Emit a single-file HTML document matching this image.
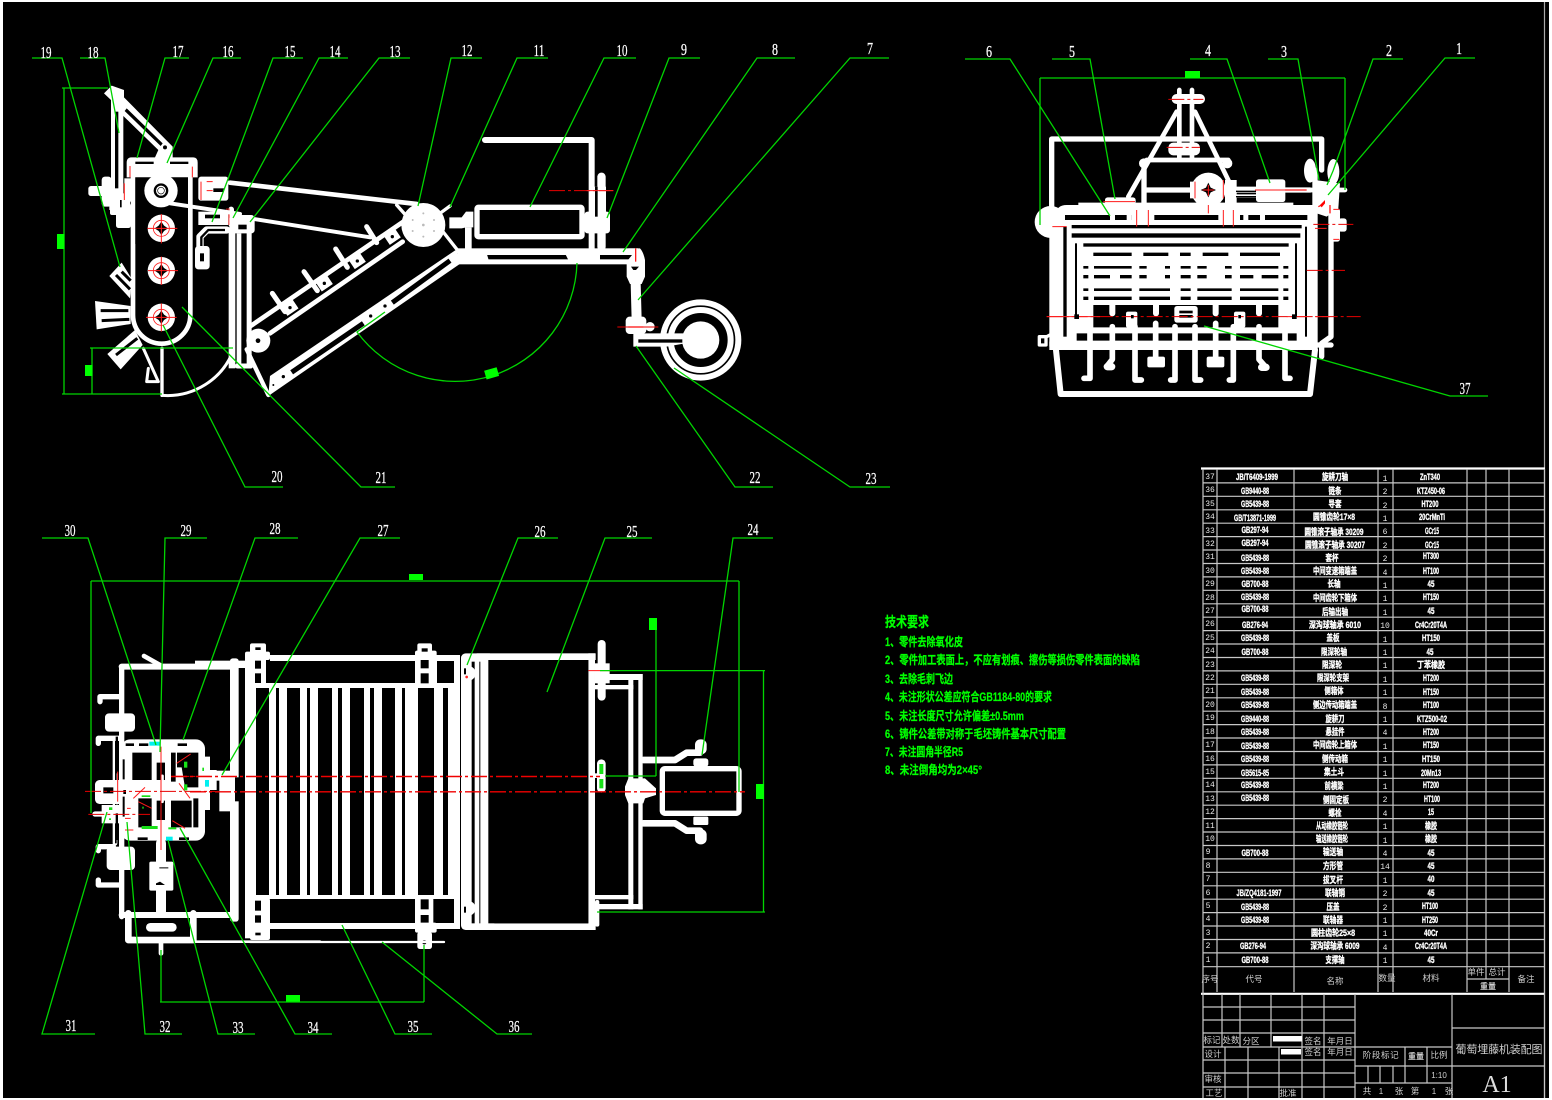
<!DOCTYPE html>
<html><head><meta charset="utf-8"><style>
html,body{margin:0;padding:0;background:#fff;width:1552px;height:1100px;overflow:hidden}
svg{display:block}
.w{fill:none;stroke:#fff;stroke-linecap:round;stroke-linejoin:round}
.f{fill:#fff;stroke:none}
.k{fill:#000;stroke:none}
.kl{fill:none;stroke:#000}
.g{fill:none;stroke:#00d400;stroke-width:1.3}
.gf{fill:#00ff00;stroke:none}
.r{fill:none;stroke:#ff1a1a}
.rd{fill:none;stroke:#f00000;stroke-width:1.4;stroke-dasharray:16 3 3 3}
.rz{fill:none;stroke:#e80000;stroke-dasharray:48 9 9 9}
.gr{stroke:#c8c8c8;stroke-width:1.2;fill:none}
.l{font-family:"Liberation Serif",serif;font-size:17px;fill:#fff;text-anchor:middle;stroke:#fff;stroke-width:.25}
.n{font-family:"Liberation Sans","Noto Sans CJK SC",sans-serif;font-weight:700;font-size:9px;fill:#fff;stroke:#fff;stroke-width:.35;text-anchor:middle}
.q{font-family:"Liberation Mono",monospace;font-size:8px;fill:#e8e8e8;text-anchor:middle}
.c{font-family:"Liberation Sans","Noto Sans CJK SC",sans-serif;font-size:8.5px;fill:#d0d0d0;text-anchor:middle}
.y{font-family:"Liberation Sans","Noto Sans CJK SC",sans-serif;font-weight:700;font-size:12px;fill:#00ff00;stroke:#00ff00;stroke-width:.25}
</style></head><body>
<svg width="1552" height="1100" viewBox="0 0 1552 1100" xmlns="http://www.w3.org/2000/svg">
<rect x="3" y="2" width="1546" height="1096" fill="#000"/>
<line x1="1544.5" y1="2" x2="1544.5" y2="1098" stroke="#aaa" stroke-width="1.2"/>

<!-- SIDE VIEW left part -->
<g transform="translate(30 40) scale(.33333)">
<path class="f" d="M222 160 L245 137 L282 150 L282 172 L428 320 L428 352 L490 352 Q503 352 503 368 L503 412 L290 412 L290 368 Q290 352 305 352 L375 352 L385 330 L280 228 L280 470 L243 470 L243 180Z"/>
<path class="k" d="M290 205 L398 310 L392 318 L284 213Z"/>
<rect class="k" x="255" y="215" width="10" height="230" />
<rect class="k" x="316" y="365" width="55" height="7"/><rect class="k" x="420" y="365" width="55" height="7"/>
<circle cx="405" cy="322" r="6" fill="#000"/>
<path class="w" stroke-width="14" d="M309 405 V825 A86 86 0 0 0 481 825 V405"/>
<rect class="k" x="316" y="412" width="158" height="200"/>
<circle class="f" cx="393" cy="452" r="50"/><circle class="k" cx="393" cy="452" r="22"/><circle class="f" cx="393" cy="452" r="15"/><circle class="kl" stroke-width="2" cx="393" cy="452" r="10"/>
<g id="rl">
<circle class="f" cx="394" cy="565" r="41"/><path class="k" d="M394 545 L402 557 L414 565 L402 573 L394 585 L386 573 L374 565 L386 557Z"/><circle class="r" stroke-width="2.500" cx="394" cy="565" r="24"/><path class="r" stroke-width="3" d="M352 565H442M394 522V610"/>
<circle class="f" cx="394" cy="692" r="41"/><path class="k" d="M394 672 L402 684 L414 692 L402 700 L394 712 L386 700 L374 692 L386 684Z"/><circle class="r" stroke-width="2.500" cx="394" cy="692" r="24"/><path class="r" stroke-width="3" d="M354 692H444M394 650V735"/>
<circle class="f" cx="394" cy="832" r="41"/><path class="k" d="M394 812 L402 824 L414 832 L402 840 L394 852 L386 840 L374 832 L386 824Z"/><circle class="r" stroke-width="2.500" cx="394" cy="832" r="24"/><path class="r" stroke-width="3" d="M348 832H440M394 790V875"/>
</g>
<!-- clevis -->
<rect class="f" x="505" y="410" width="90" height="72" rx="8"/>
<path class="k" d="M550 445H582V456H550Z"/>
<path class="r" stroke-width="3" d="M513 425V480M530 425H548M530 452H548M300 378V412M487 380V412M283 430V480M507 530V552M597 505V555M591 505V555"/>
<rect class="f" x="505" y="515" width="90" height="40"/><rect class="k" x="525" y="524" width="45" height="11"/>
<path class="w" stroke-width="22" d="M590 570 H530 L510 590 V640"/><path class="kl" stroke-width="7" d="M585 570 H535 L514 592 V625"/>
<rect class="f" x="495" y="618" width="44" height="70" rx="10"/><rect class="k" x="510" y="640" width="12" height="24"/>
<!-- post -->
<rect class="f" x="596" y="565" width="20" height="420"/><rect class="f" x="620" y="580" width="14" height="405"/><rect class="f" x="650" y="575" width="15" height="410"/>
<path class="w" stroke-width="15" d="M622 978H662"/>
<rect class="f" x="595" y="500" width="17" height="60" rx="8"/><path class="r" stroke-width="3" d="M597 505V555"/>
<rect class="f" x="598" y="525" width="76" height="55" rx="10"/><rect class="k" x="625" y="554" width="25" height="14"/>
<!-- left mech -->
<rect class="f" x="175" y="438" width="60" height="30" rx="8"/><rect class="f" x="215" y="410" width="30" height="90" rx="10"/><rect class="f" x="238" y="460" width="62" height="50"/><rect class="f" x="258" y="490" width="45" height="74" rx="8"/><rect class="f" x="240" y="490" width="30" height="35" rx="6"/><rect class="f" x="283" y="415" width="20" height="70"/>
<path class="r" stroke-width="3" d="M283 430V480"/>
<path class="k" d="M270 480h5v22h-5z"/>
<!-- rakes -->
<path class="f" d="M238 708 L275 668 L306 718 L300 775Z"/><path class="kl" stroke-width="9" d="M258 705 L300 748M275 695 L302 722"/>
<path class="f" d="M195 783 L302 798 L302 852 L200 868Z"/><path class="kl" stroke-width="9" d="M212 812H295M215 842L298 838"/>
<path class="f" d="M232 942 L272 988 L338 915 L315 870Z"/><path class="kl" stroke-width="9" d="M258 945L322 895"/>
<!-- lower -->
<path class="w" stroke-width="9" d="M340 925 L385 1025 H350 L355 985"/>
<path class="w" stroke-width="10" d="M396 925 V1066"/>
<path class="w" stroke-width="9" d="M396 1066 A212 212 0 0 0 610 932"/>
</g>

<!-- SIDE VIEW rails -->
<g transform="translate(230 120) scale(.33333)">
<line class="w" stroke-width="14" x1="0" y1="188" x2="560" y2="252"/>
<line class="w" stroke-width="12" x1="-180" y1="250" x2="30" y2="282"/>
<line class="w" stroke-width="12" x1="60" y1="295" x2="420" y2="352"/>
<line class="w" stroke-width="14" x1="62" y1="618" x2="520" y2="305"/>
<line class="w" stroke-width="14" x1="120" y1="640" x2="518" y2="365"/>
<g class="w" stroke-width="15"><path d="M127 520L165 575M222 455L262 512M317 387L352 442M410 320L440 368"/></g>
<g fill="#fff" stroke="none">
<rect x="-20" y="-16" width="40" height="32" transform="translate(180 563) rotate(-34)"/><rect x="-20" y="-16" width="40" height="32" transform="translate(283 490) rotate(-34)"/><rect x="-20" y="-16" width="40" height="32" transform="translate(382 423) rotate(-34)"/><rect x="-20" y="-16" width="40" height="32" transform="translate(487 350) rotate(-34)"/>
</g>
<g fill="#000"><circle cx="180" cy="563" r="5"/><circle cx="283" cy="490" r="5"/><circle cx="382" cy="423" r="5"/><circle cx="487" cy="350" r="5"/></g>
<circle class="f" cx="85" cy="662" r="36"/><circle class="k" cx="84" cy="662" r="7"/>
<circle class="f" cx="580" cy="315" r="66"/>
<g fill="#bbb"><circle cx="580" cy="315" r="4"/><circle cx="548" cy="300" r="3"/><circle cx="612" cy="300" r="3"/><circle cx="548" cy="333" r="3"/><circle cx="612" cy="333" r="3"/><circle cx="580" cy="280" r="3"/><circle cx="580" cy="350" r="3"/></g>
<path class="w" stroke-width="10" d="M500 255L540 300M660 258L630 280M635 330L690 400"/>
<path class="f" d="M120 768 L680 388 L692 430 L115 828Z"/>
<path class="kl" stroke-width="15" d="M185 757 L400 610M487 548 L660 422"/>
<g fill="#000"><circle cx="160" cy="770" r="5"/><circle cx="130" cy="795" r="3"/><circle cx="422" cy="588" r="5"/><circle cx="465" cy="558" r="5"/></g>
<path class="w" stroke-width="13" d="M50 688 L115 825"/>
</g>

<!-- SIDE VIEW right -->
<g transform="translate(380 120) scale(.33333)">
<path class="w" stroke-width="18" d="M315 60 H635 V390"/>
<rect class="w" stroke-width="16" x="291" y="262" width="315" height="88" rx="4"/>
<path class="f" d="M208 292H245L258 275H280V322H258L245 325H208Z"/>
<rect class="f" x="255" y="322" width="20" height="70"/>
<rect class="f" x="613" y="275" width="77" height="65" rx="10"/>
<rect class="f" x="652" y="158" width="25" height="235" rx="12"/>
<rect class="f" x="628" y="200" width="50" height="90"/><rect class="k" x="645" y="200" width="8" height="90"/>
<rect class="f" x="234" y="385" width="540" height="20"/><rect class="f" x="230" y="418" width="525" height="15"/>
<path class="f" d="M232 400H320L326 420H232ZM555 400H660V420H565Z"/>
<path class="w" stroke-width="1" d="M250 405V430M270 405V430M300 405V430M610 405V430M640 405V430"/>
<path class="f" d="M745 385 H780 Q790 395 795 420 V470 L785 492 H750 L740 470 V425 L760 400Z"/>
<path class="r" stroke-width="4" d="M767 385V425"/>
<path class="k" d="M753 440H777L768 450H760Z"/>
<path class="w" stroke-width="30" d="M767 490 L770 600"/>
<rect class="f" x="737" y="590" width="62" height="52" rx="12"/><circle class="f" cx="810" cy="620" r="14"/>
<path class="rz" stroke-width="3" d="M712 621 H836"/>
<path class="r" stroke-width="4" d="M745 621H790"/>
<circle class="w" stroke-width="18" cx="962" cy="660" r="113"/>
<circle class="w" stroke-width="18" cx="962" cy="660" r="90"/>
<circle class="f" cx="962" cy="660" r="56"/>
<path class="f" d="M760 640H915V670L860 680H760Z"/><rect class="k" x="775" y="658" width="132" height="10"/>
<path class="rz" stroke-width="3" d="M507 212 H700"/>
<path class="r" stroke-width="3" d="M620 212H700"/>
</g>

<!-- TOP RIGHT VIEW -->
<g transform="translate(1020 70) scale(.33333)">
<path class="w" stroke-width="16" d="M95 435 V207 H905 V300"/>
<path class="w" stroke-width="14" d="M470 125 L325 380M525 125 L632 345M478 60V270M516 60V270M380 270H625"/>
<rect class="f" x="455" y="72" width="100" height="30" rx="15"/>
<rect class="f" x="445" y="218" width="95" height="38" rx="15"/>
<circle class="f" cx="372" cy="280" r="15"/><circle class="f" cx="622" cy="280" r="15"/>
<path class="w" stroke-width="16" d="M372 280V425M372 360H870"/>
<path class="w" stroke-width="10" d="M620 355H710M620 378H710"/>
<rect class="f" x="255" y="382" width="92" height="22" rx="8"/>
<circle class="f" cx="565" cy="360" r="52"/><path class="k" d="M565 338L572 353L588 360L572 367L565 382L558 367L542 360L558 353Z"/>
<path class="f" d="M510 335h14v50h-14zM555 400h18v40h-18zM615 330h35v100h-35z"/>
<rect class="f" x="708" y="328" width="88" height="68" rx="8"/>
<path class="w" stroke-width="14" d="M795 360H975"/>
<path class="k" d="M648 362h60v4h-60zM648 378h60v4h-60z"/>
<!-- tube + body -->
<path class="f" d="M105 435 Q110 405 140 405 H175 V398 H820 V405 H880 V830 H105Z"/>
<circle class="f" cx="92" cy="456" r="48"/>
<rect class="f" x="88" y="440" width="40" height="390"/>
<path class="k" d="M135 435H338V450H135ZM402 435H600V450H402ZM660 435H862V450H660Z"/>
<path class="f" d="M270 430h15v40h-15zM320 430h15v40h-15zM670 430h15v40h-15zM720 430h15v40h-15z"/>
<rect class="f" x="335" y="418" width="68" height="58" rx="14"/><rect class="f" x="595" y="418" width="65" height="58" rx="14"/>
<rect class="k" x="155" y="465" width="690" height="10"/><rect class="k" x="155" y="490" width="686" height="13"/><rect class="k" x="190" y="520" width="616" height="10"/>
<rect class="k" x="130" y="470" width="10" height="330"/>
<rect class="k" x="165" y="520" width="6" height="220"/><rect class="k" x="825" y="520" width="6" height="220"/><rect class="k" x="855" y="470" width="6" height="330"/>
<g class="k">
<path d="M220 548H335V558H220ZM370 548H445V558H370ZM480 548H512V558H480ZM548 548H625V558H548ZM660 548H780V558H660Z"/>
<path d="M190 588H205V596H190ZM222 588H335V596H222ZM358 588H380V596H358ZM435 588H450V596H435ZM482 588H512V596H482ZM532 588H560V596H532ZM615 588H635V596H615ZM660 588H775V596H660ZM790 588H805V596H790Z"/>
<path d="M190 615H205V625H190ZM222 615H270V625H222ZM300 615H335V625H300ZM358 615H380V625H358ZM435 615H450V625H435ZM482 615H512V625H482ZM532 615H560V625H532ZM615 615H635V625H615ZM660 615H700V625H660ZM725 615H775V625H725ZM790 615H805V625H790Z"/>
<path d="M190 655H205V663H190ZM222 655H335V663H222ZM358 655H450V663H358ZM482 655H512V663H482ZM532 655H635V663H532ZM660 655H775V663H660ZM790 655H805V663H790Z"/>
<path d="M190 680H205V690H190ZM222 680H335V690H222ZM358 680H450V690H358ZM482 680H512V690H482ZM532 680H635V690H532ZM660 680H775V690H660ZM790 680H805V690H790Z"/>
<path d="M220 705H775V772H220Z"/>
<path d="M170 790H830V812H170Z"/>
</g>
<g class="w" stroke-width="18"><path d="M277 705V730M408 705V730M587 705V730M717 705V730"/></g>
<path class="w" stroke-width="14" d="M225 780H770"/>
<rect class="f" x="380" y="590" width="55" height="32" rx="14"/><rect class="f" x="560" y="590" width="55" height="32" rx="14"/>
<rect class="f" x="463" y="708" width="70" height="50" rx="8"/><rect class="k" x="478" y="722" width="40" height="8"/><rect class="k" x="478" y="735" width="40" height="8" />
<rect class="f" x="318" y="725" width="34" height="48" rx="6"/><rect class="f" x="642" y="725" width="34" height="48" rx="6"/>
<rect class="f" x="88" y="815" width="800" height="25"/>
<rect class="k" x="125" y="840" width="745" height="125"/>
<path class="w" stroke-width="18" d="M108 840 L122 972 H870 L885 840"/>
<g class="w" stroke-width="17">
<path d="M210 770V925H192M345 770V930H364M465 770V930H452M525 770V930H542M640 770V930H628M795 770V925H810M407 760V870M587 760V870M277 770V868 L260 890M717 770V868 L738 892"/>
</g>
<path class="w" stroke-width="22" d="M262 890H275M725 892H738"/>
<rect class="f" x="382" y="860" width="53" height="32" rx="6"/><rect class="f" x="560" y="860" width="53" height="32" rx="6"/>
<path class="w" stroke-width="10" d="M58 800H78V825H58ZM80 800L108 785"/>
<!-- right side -->
<path class="w" stroke-width="16" d="M885 300 V840"/>
<path class="w" stroke-width="16" d="M933 420V800L905 820V860M890 825H933"/>
<ellipse class="f" cx="870" cy="302" rx="18" ry="36"/><ellipse class="f" cx="940" cy="305" rx="18" ry="38"/>
<path class="f" d="M885 330 L960 340 L955 415 L920 440 L890 430Z"/>
<rect class="f" x="930" y="415" width="30" height="100" rx="8"/><rect class="f" x="955" y="445" width="25" height="40" rx="8"/>
<path class="r" stroke-width="4" d="M795 360H860M905 405 L895 410M930 405V430"/>
<path fill="#f00" d="M900 405L915 390L915 400L905 412Z"/>
<path class="r" stroke-width="3" d="M250 395H345M350 420V470M385 420V470M610 420V470M640 420V470M525 335V385M610 330V385M565 345V378M548 360H582M565 405V430M705 360H795M97 470H140M940 418H958M940 508H958"/>
<g class="rz" stroke-width="3"><path d="M445 88H550M440 232H540M880 463H1000M860 601H975M80 740H1022"/></g>
<path class="r" stroke-width="3" d="M80 740H240M800 740H860M885 740H930M885 475H920"/>
<rect class="k" x="163" y="733" width="14" height="14"/><rect class="k" x="816" y="733" width="14" height="14"/>
<rect class="k" x="333" y="735" width="8" height="10"/><rect class="k" x="655" y="735" width="8" height="10"/>
</g>

<!-- BOTTOM VIEW left part -->
<g transform="translate(80 640) scale(.33333)">
<path class="w" stroke-width="14" d="M192 48L240 75"/>
<path class="w" stroke-width="18" d="M125 80H450"/>
<path class="w" stroke-width="16" d="M125 80V830"/>
<path class="w" stroke-width="18" d="M125 825H450"/>
<rect class="f" x="450" y="55" width="26" height="790" rx="8"/>
<rect class="f" x="495" y="55" width="33" height="840"/>
<rect class="f" x="345" y="62" width="155" height="22"/>
<path class="w" stroke-width="14" d="M95 295H105V610"/>
<rect class="k" x="105" y="290" width="5" height="320"/>
<path class="w" stroke-width="16" d="M120 170H60 M60 170 V185M120 295H55V310"/>
<path class="w" stroke-width="16" d="M100 620H55V632M120 735H55V720"/>
<rect class="f" x="75" y="220" width="90" height="55" rx="12"/><rect class="f" x="80" y="620" width="85" height="70" rx="12"/>
<!-- bolts -->
<rect class="f" x="510" y="10" width="48" height="130" rx="6"/><rect class="f" x="495" y="35" width="75" height="25" rx="6"/><rect class="k" x="526" y="22" width="16" height="8"/><rect class="k" x="525" y="62" width="18" height="24"/><rect class="k" x="525" y="100" width="18" height="30"/>
<rect class="f" x="510" y="775" width="60" height="125" rx="6"/><rect class="f" x="495" y="848" width="75" height="25" rx="6"/><rect class="k" x="525" y="782" width="18" height="30"/><rect class="k" x="525" y="826" width="18" height="22"/><rect class="k" x="526" y="878" width="16" height="8"/>
<!-- lower box -->
<path class="w" stroke-width="20" d="M145 820V900H340V820"/>
<path class="w" stroke-width="8" d="M340 905H720"/>
<rect class="k" x="165" y="835" width="165" height="55"/>
<rect class="f" x="198" y="849" width="92" height="26" rx="13"/>
<rect class="f" x="208" y="665" width="72" height="87" rx="5"/>
<path class="k" d="M238 682H265V685H238ZM228 730L240 725L255 735H228Z"/>
<path class="w" stroke-width="30" d="M243 610V665M243 752V815"/>
<path class="w" stroke-width="14" d="M243 900V940"/>
<path class="w" stroke-width="16" d="M45 522H120"/>
</g>
<!-- gearbox (zoom12 frame) -->
<g transform="translate(85 730) scale(.33333)">
<rect class="f" x="108" y="28" width="252" height="304" rx="28"/>
<path class="f" d="M345 80H375V120H395V180H375V240H345Z"/>
<rect class="f" x="30" y="150" width="90" height="72" rx="14"/>
<rect class="f" x="50" y="225" width="60" height="55"/>
<path class="k" d="M142 68H200V150H142ZM215 98H240V150H215ZM258 68H272V155H258ZM276 68H340V112H276ZM290 112H340V172H300ZM160 205H200V292H160ZM215 212H240V270H215ZM258 212H320V292H258ZM325 205H340V292H325Z"/>
<path class="k" d="M122 40h25v8h-25zM162 40h28v8h-28zM278 40h28v8h-28zM158 322h30v8h-30zM282 322h30v8h-30zM55 172h30v18h-30zM115 180h8v12h-8zM92 20h7v110h-7zM92 250h7v80h-7zM113 88h6v60h-6zM113 200h6v60h-6z"/>
<path class="w" stroke-width="9" d="M232 138 V215"/>
<g class="r" stroke-width="3"><path d="M275 100L317 72M282 160L315 205M145 205L180 172M160 215L200 235M262 272L300 295M98 125V215M228 50V360M120 300H145M120 265H137M126 235H137"/></g>
<g class="rz" stroke-width="3"><path d="M0 184H390"/><path d="M265 139H390"/><path d="M10 253H195"/></g>
<g fill="#18e018"><rect x="297" y="95" width="10" height="18"/><rect x="297" y="163" width="10" height="18"/><rect x="352" y="113" width="5" height="10"/><rect x="170" y="288" width="48" height="9"/><rect x="250" y="292" width="24" height="6"/><rect x="170" y="196" width="26" height="5"/><rect x="72" y="232" width="10" height="8"/><rect x="72" y="265" width="6" height="5"/><rect x="172" y="230" width="4" height="6"/></g>
<g fill="#00f0f0"><rect x="193" y="35" width="32" height="12"/><rect x="360" y="150" width="12" height="20"/><rect x="243" y="320" width="20" height="12"/></g>
</g>
<g transform="translate(80 640) scale(.33333)">
<rect class="f" x="390" y="392" width="75" height="30"/><rect class="f" x="418" y="420" width="44" height="94"/><rect class="k" x="465" y="412" width="20" height="72"/>
</g>

<!-- drum -->
<rect class="f" x="245" y="683" width="209" height="216"/>
<g class="k"><rect x="256" y="688" width="13" height="207"/><rect x="276" y="688" width="3" height="207"/><rect x="287" y="688" width="13" height="207"/><rect x="307" y="688" width="3" height="207"/><rect x="318" y="688" width="14" height="207"/><rect x="338" y="688" width="4" height="207"/><rect x="350" y="688" width="14" height="207"/><rect x="370" y="688" width="4" height="207"/><rect x="382" y="688" width="13" height="207"/><rect x="402" y="688" width="3" height="207"/><rect x="418" y="688" width="16" height="207"/><rect x="443" y="688" width="5" height="207"/></g>
<rect class="f" x="270" y="655" width="190" height="6"/>
<rect class="f" x="256" y="923" width="204" height="6"/>
<rect class="f" x="415" y="658" width="22" height="25"/>
<g transform="translate(300 630) scale(.33333)">
<rect class="f" x="345" y="62" width="65" height="22" rx="6"/><rect class="f" x="352" y="40" width="44" height="100" rx="6"/><rect class="k" x="365" y="55" width="18" height="10"/><rect class="k" x="362" y="90" width="24" height="28"/><rect class="k" x="360" y="130" width="26" height="30"/>
<rect class="f" x="345" y="115" width="55" height="50"/><rect class="k" x="362" y="130" width="24" height="30"/>
<rect class="f" x="345" y="800" width="55" height="90"/><rect class="k" x="362" y="808" width="24" height="30"/><rect class="k" x="362" y="855" width="24" height="25"/>
<rect class="f" x="345" y="878" width="65" height="30" rx="6"/><rect class="f" x="352" y="905" width="44" height="52" rx="8"/><circle class="k" cx="373" cy="937" r="6"/>
<path class="w" stroke-width="7" d="M-150 936H432"/>
<!-- hopper -->
<rect class="f" x="483" y="70" width="100" height="830" rx="14"/>
<rect class="f" x="530" y="70" width="357" height="20"/><rect class="f" x="530" y="880" width="357" height="20"/>
<rect class="f" x="865" y="70" width="20" height="830"/>
<rect class="k" x="475" y="90" width="8" height="790"/><rect class="f" x="462" y="75" width="18" height="820"/>
<rect class="k" x="515" y="95" width="9" height="785"/><rect class="k" x="538" y="95" width="3" height="785"/>
<rect class="k" x="565" y="90" width="300" height="790"/>
<circle class="f" cx="505" cy="130" r="22"/><circle class="f" cx="505" cy="835" r="22"/><rect class="k" x="492" y="115" width="6" height="18"/><rect class="k" x="492" y="830" width="6" height="18"/><circle cx="500" cy="141" r="4" fill="#f22"/>
<rect class="f" x="885" y="132" width="143" height="18"/><rect class="f" x="885" y="165" width="115" height="13"/><rect class="f" x="885" y="822" width="143" height="16"/><rect class="f" x="885" y="795" width="115" height="13"/>
<rect class="f" x="985" y="132" width="15" height="706"/><rect class="f" x="1015" y="132" width="13" height="706"/>
<rect class="f" x="893" y="30" width="24" height="182" rx="12"/><rect class="f" x="885" y="100" width="44" height="60"/>
<rect class="f" x="885" y="810" width="13" height="80" rx="6"/>
<rect class="f" x="891" y="388" width="26" height="100" rx="13"/><rect x="898" y="402" width="12" height="30" fill="#18e018"/><rect x="898" y="447" width="12" height="28" fill="#18e018"/>
<rect class="f" x="885" y="430" width="10" height="14"/>
<path class="f" d="M975 470 L985 445 H1035 L1068 475 V495 L1035 505 L1030 520 H985 L975 495Z"/>
<path class="w" stroke-width="20" d="M1030 390H1125L1160 368H1200"/>
<path class="w" stroke-width="20" d="M1030 580H1125L1160 602H1200"/>
<rect class="f" x="1185" y="328" width="35" height="45" rx="16"/><rect class="f" x="1180" y="385" width="45" height="25" rx="8"/>
<rect class="f" x="1185" y="598" width="35" height="45" rx="16"/><rect class="f" x="1180" y="560" width="45" height="25" rx="4"/>
<rect class="w" stroke-width="16" x="1087" y="416" width="230" height="134" rx="8"/>
<path class="r" stroke-width="3" d="M865 122H950"/>
</g>
<!-- centre lines -->
<g class="rd"><path d="M171 776.5H600"/><path d="M190 791.8H745"/></g>

<!-- ================= GREEN ================= -->
<g class="g">
<path d="M32 58H62L120 267M80 58H105L119 133M189 58H165L137 158M241 58H213L167 163M303 58H273L212 222M348 58H319L233 218M410 58H379L250 222M482 58H451L418 206M548 58H517L450 207M636 58H604L530 207M700 58H669L607 218M795 58H757L623 252M889 58H850L638 300"/>
<path d="M283 487H245L163 325M395 487H361L182 307M773 487H735L636 346M890 487H850L674 368"/>
<path d="M62 88H108M64 88V394M62 394H162M92 348V394M90 348H233"/>
<path d="M577 263 A122 122 0 0 1 357 332 L385 312"/>
<path d="M965 59H1010L1110 216M1052 59H1090L1115 199M1190 59H1227L1270 183M1268 59H1298L1319 180M1403 59H1373L1333 171L1327 185M1475 58H1445L1328 195"/>
<path d="M1204 326L1450 396H1488"/>
<path d="M1040 78H1345M1040 78V225M1345 78V190"/>
<path d="M42 538H88L156 745M207 538H165L160 752M298 538H255L183 740M400 538H360L222 775M558 538H518L467 665M652 538H605L547 692M773 538H733L702 755"/>
<path d="M95 1034H42L107 812M182 1034H145L127 822M255 1034H218L168 840M332 1034H295L180 828M432 1034H395L342 925M532 1034H497L382 942"/>
<path d="M91 581H739M91 581V813M739 581V792M656 630V776M605 776H656"/>
<path d="M600 670.6H765M597 912H765M763.5 671V912"/>
<path d="M160 1002H424M161 950V1002M424 945V1002"/>
</g>
<g class="gf">
<rect x="57" y="234" width="7.500" height="15"/><rect x="85" y="365" width="7.500" height="11"/>
<rect x="485" y="369" width="13" height="9" transform="rotate(-16 491 373)"/>
<rect x="1185" y="71" width="15" height="7"/>
<rect x="409" y="574" width="14" height="6"/><rect x="649" y="618" width="8" height="12"/>
<rect x="756" y="784" width="8" height="15"/><rect x="286" y="995" width="14" height="6.500"/>
</g>

<!-- labels -->
<g class="l">
<text x="46" y="58" textLength="11" lengthAdjust="spacingAndGlyphs">19</text><text x="93" y="58" textLength="11" lengthAdjust="spacingAndGlyphs">18</text><text x="178" y="57" textLength="11" lengthAdjust="spacingAndGlyphs">17</text><text x="228" y="57" textLength="11" lengthAdjust="spacingAndGlyphs">16</text><text x="290" y="57" textLength="11" lengthAdjust="spacingAndGlyphs">15</text><text x="335" y="57" textLength="11" lengthAdjust="spacingAndGlyphs">14</text><text x="395" y="57" textLength="11" lengthAdjust="spacingAndGlyphs">13</text><text x="467" y="56" textLength="11" lengthAdjust="spacingAndGlyphs">12</text><text x="539" y="56" textLength="11" lengthAdjust="spacingAndGlyphs">11</text><text x="622" y="56" textLength="11" lengthAdjust="spacingAndGlyphs">10</text><text x="684" y="55" textLength="6" lengthAdjust="spacingAndGlyphs">9</text><text x="775" y="55" textLength="6" lengthAdjust="spacingAndGlyphs">8</text><text x="870" y="54" textLength="6" lengthAdjust="spacingAndGlyphs">7</text>
<text x="277" y="482" textLength="11" lengthAdjust="spacingAndGlyphs">20</text><text x="381" y="483" textLength="11" lengthAdjust="spacingAndGlyphs">21</text><text x="755" y="483" textLength="11" lengthAdjust="spacingAndGlyphs">22</text><text x="871" y="484" textLength="11" lengthAdjust="spacingAndGlyphs">23</text>
<text x="989" y="57" textLength="6" lengthAdjust="spacingAndGlyphs">6</text><text x="1072" y="57" textLength="6" lengthAdjust="spacingAndGlyphs">5</text><text x="1208" y="56" textLength="6" lengthAdjust="spacingAndGlyphs">4</text><text x="1284" y="57" textLength="6" lengthAdjust="spacingAndGlyphs">3</text><text x="1389" y="56" textLength="6" lengthAdjust="spacingAndGlyphs">2</text><text x="1459" y="54" textLength="6" lengthAdjust="spacingAndGlyphs">1</text><text x="1465" y="394" textLength="11" lengthAdjust="spacingAndGlyphs">37</text>
<text x="70" y="536" textLength="11" lengthAdjust="spacingAndGlyphs">30</text><text x="186" y="536" textLength="11" lengthAdjust="spacingAndGlyphs">29</text><text x="275" y="534" textLength="11" lengthAdjust="spacingAndGlyphs">28</text><text x="383" y="536" textLength="11" lengthAdjust="spacingAndGlyphs">27</text><text x="540" y="537" textLength="11" lengthAdjust="spacingAndGlyphs">26</text><text x="632" y="537" textLength="11" lengthAdjust="spacingAndGlyphs">25</text><text x="753" y="535" textLength="11" lengthAdjust="spacingAndGlyphs">24</text>
<text x="71" y="1031" textLength="11" lengthAdjust="spacingAndGlyphs">31</text><text x="165" y="1032" textLength="11" lengthAdjust="spacingAndGlyphs">32</text><text x="238" y="1033" textLength="11" lengthAdjust="spacingAndGlyphs">33</text><text x="313" y="1033" textLength="11" lengthAdjust="spacingAndGlyphs">34</text><text x="413" y="1032" textLength="11" lengthAdjust="spacingAndGlyphs">35</text><text x="514" y="1032" textLength="11" lengthAdjust="spacingAndGlyphs">36</text>
</g>

<!-- notes -->
<g class="y">
<text x="885" y="627" style="font-size:14px" textLength="44" lengthAdjust="spacingAndGlyphs">技术要求</text>
<text x="885" y="646" textLength="78" lengthAdjust="spacingAndGlyphs">1、零件去除氧化皮</text>
<text x="885" y="664" textLength="255" lengthAdjust="spacingAndGlyphs">2、零件加工表面上，不应有划痕、擦伤等损伤零件表面的缺陷</text>
<text x="885" y="683" textLength="68" lengthAdjust="spacingAndGlyphs">3、去除毛刺飞边</text>
<text x="885" y="701" textLength="167" lengthAdjust="spacingAndGlyphs">4、未注形状公差应符合GB1184-80的要求</text>
<text x="885" y="720" textLength="139" lengthAdjust="spacingAndGlyphs">5、未注长度尺寸允许偏差±0.5mm</text>
<text x="885" y="738" textLength="181" lengthAdjust="spacingAndGlyphs">6、铸件公差带对称于毛坯铸件基本尺寸配置</text>
<text x="885" y="756" textLength="78" lengthAdjust="spacingAndGlyphs">7、未注圆角半径R5</text>
<text x="885" y="774" textLength="97" lengthAdjust="spacingAndGlyphs">8、未注倒角均为2×45°</text>
</g>

<!-- TABLE -->
<g stroke="#fff" stroke-width="2.2" fill="none"><path d="M1201 468.500H1545"/><path d="M1201 993.800H1545"/></g>
<g class="gr">
<path d="M1203 469V1098M1217 469V992M1294 469V992M1378 469V992M1393 469V992M1467 469V992M1486 469V979M1509 469V992M1544.500 469V1098"/>
<path d="M1203 482.900H1544M1203 496.300H1544M1203 509.800H1544M1203 523.200H1544M1203 536.600H1544M1203 550H1544M1203 563.500H1544M1203 576.900H1544M1203 590.300H1544M1203 603.800H1544M1203 617.200H1544M1203 630.600H1544M1203 644H1544M1203 657.500H1544M1203 670.900H1544M1203 684.300H1544M1203 697.800H1544M1203 711.200H1544M1203 724.600H1544M1203 738H1544M1203 751.500H1544M1203 764.900H1544M1203 778.300H1544M1203 791.800H1544M1203 805.200H1544M1203 818.600H1544M1203 832H1544M1203 845.500H1544M1203 858.900H1544M1203 872.300H1544M1203 885.800H1544M1203 899.200H1544M1203 912.600H1544M1203 926H1544M1203 939.500H1544M1203 952.900H1544M1203 966.700H1544M1467 979H1509"/>
<path d="M1203 1007H1355M1203 1020H1355M1203 1033H1355M1203 1047H1355M1203 1060H1355M1203 1073H1355M1203 1087H1355"/>
<path d="M1222 994V1047M1240 994V1047M1271 994V1047M1302 994V1098M1324 994V1098M1355 994V1098M1225 1047V1098M1248 1047V1098M1279 1047V1098"/>
<path d="M1355 1047H1452M1355 1066H1452M1355 1083H1452M1405 1047V1083M1427 1047V1083M1368 1066V1083M1380 1066V1083M1393 1066V1083M1452 994V1098M1452 1028H1544M1452 1066H1544"/>
</g>
<rect x="1273" y="1036" width="29" height="5.500" fill="#fff"/><rect x="1281" y="1049" width="20" height="5.500" fill="#fff"/>

<g class="q">
<text x="1210" y="479">37</text><text x="1210" y="492">36</text><text x="1210" y="506">35</text><text x="1210" y="519">34</text><text x="1210" y="533">33</text><text x="1210" y="546">32</text><text x="1210" y="559">31</text><text x="1210" y="573">30</text><text x="1210" y="586">29</text><text x="1210" y="600">28</text><text x="1210" y="613">27</text><text x="1210" y="626">26</text><text x="1210" y="640">25</text><text x="1210" y="653">24</text><text x="1210" y="667">23</text><text x="1210" y="680">22</text><text x="1210" y="693">21</text><text x="1210" y="707">20</text><text x="1210" y="720">19</text><text x="1210" y="734">18</text><text x="1210" y="747">17</text><text x="1210" y="761">16</text><text x="1210" y="774">15</text><text x="1210" y="787">14</text><text x="1210" y="801">13</text><text x="1210" y="814">12</text><text x="1210" y="828">11</text><text x="1210" y="841">10</text><text x="1208" y="854">9</text><text x="1208" y="868">8</text><text x="1208" y="881">7</text><text x="1208" y="895">6</text><text x="1208" y="908">5</text><text x="1208" y="921">4</text><text x="1208" y="935">3</text><text x="1208" y="948">2</text><text x="1208" y="962">1</text>
</g>
<g class="q">
<text x="1385" y="481">1</text><text x="1385" y="494">2</text><text x="1385" y="508">2</text><text x="1385" y="521">1</text><text x="1385" y="534">6</text><text x="1385" y="548">2</text><text x="1385" y="561">2</text><text x="1385" y="575">4</text><text x="1385" y="588">1</text><text x="1385" y="601">1</text><text x="1385" y="615">1</text><text x="1385" y="628">10</text><text x="1385" y="642">1</text><text x="1385" y="655">1</text><text x="1385" y="668">1</text><text x="1385" y="682">1</text><text x="1385" y="695">1</text><text x="1385" y="709">8</text><text x="1385" y="722">1</text><text x="1385" y="735">4</text><text x="1385" y="749">1</text><text x="1385" y="762">1</text><text x="1385" y="776">1</text><text x="1385" y="789">1</text><text x="1385" y="802">2</text><text x="1385" y="816">4</text><text x="1385" y="829">1</text><text x="1385" y="843">1</text><text x="1385" y="856">4</text><text x="1385" y="869">14</text><text x="1385" y="883">1</text><text x="1385" y="896">2</text><text x="1385" y="910">2</text><text x="1385" y="923">1</text><text x="1385" y="936">1</text><text x="1385" y="950">4</text><text x="1385" y="963">1</text>
</g>
<g class="n">
<text x="1257" y="480" textLength="42" lengthAdjust="spacingAndGlyphs">JB/T6409-1999</text><text x="1335" y="480" textLength="26" lengthAdjust="spacingAndGlyphs">旋耕刀轴</text><text x="1430" y="480" textLength="20" lengthAdjust="spacingAndGlyphs">ZnT340</text>
<text x="1255" y="494" textLength="28" lengthAdjust="spacingAndGlyphs">GB9440-88</text><text x="1335" y="494" textLength="13" lengthAdjust="spacingAndGlyphs">链条</text><text x="1431" y="494" textLength="28" lengthAdjust="spacingAndGlyphs">KTZ450-06</text>
<text x="1255" y="507" textLength="28" lengthAdjust="spacingAndGlyphs">GB5439-88</text><text x="1335" y="507" textLength="13" lengthAdjust="spacingAndGlyphs">导套</text><text x="1430" y="507" textLength="17" lengthAdjust="spacingAndGlyphs">HT200</text>
<text x="1255" y="521" textLength="42" lengthAdjust="spacingAndGlyphs">GB/T13871-1999</text><text x="1334" y="520" textLength="42" lengthAdjust="spacingAndGlyphs">圆锥齿轮17×8</text><text x="1432" y="520" textLength="26" lengthAdjust="spacingAndGlyphs">20CrMnTi</text>
<text x="1255" y="533" textLength="27" lengthAdjust="spacingAndGlyphs">GB297-94</text><text x="1334" y="535" textLength="59" lengthAdjust="spacingAndGlyphs">圆锥滚子轴承 30209</text><text x="1432" y="534" textLength="14" lengthAdjust="spacingAndGlyphs">GCr15</text>
<text x="1255" y="546" textLength="27" lengthAdjust="spacingAndGlyphs">GB297-94</text><text x="1335" y="548" textLength="60" lengthAdjust="spacingAndGlyphs">圆锥滚子轴承 30207</text><text x="1432" y="548" textLength="14" lengthAdjust="spacingAndGlyphs">GCr15</text>
<text x="1255" y="561" textLength="28" lengthAdjust="spacingAndGlyphs">GB5439-88</text><text x="1332" y="561" textLength="13" lengthAdjust="spacingAndGlyphs">套杯</text><text x="1431" y="559" textLength="16" lengthAdjust="spacingAndGlyphs">HT300</text>
<text x="1255" y="574" textLength="28" lengthAdjust="spacingAndGlyphs">GB5439-88</text><text x="1335" y="574" textLength="44" lengthAdjust="spacingAndGlyphs">中间变速箱端盖</text><text x="1431" y="574" textLength="16" lengthAdjust="spacingAndGlyphs">HT100</text>
<text x="1255" y="587" textLength="27" lengthAdjust="spacingAndGlyphs">GB700-88</text><text x="1334" y="587" textLength="13" lengthAdjust="spacingAndGlyphs">长轴</text><text x="1431" y="587" textLength="7" lengthAdjust="spacingAndGlyphs">45</text>
<text x="1255" y="600" textLength="28" lengthAdjust="spacingAndGlyphs">GB5439-88</text><text x="1335" y="601" textLength="44" lengthAdjust="spacingAndGlyphs">中间齿轮下箱体</text><text x="1431" y="600" textLength="16" lengthAdjust="spacingAndGlyphs">HT150</text>
<text x="1255" y="612" textLength="27" lengthAdjust="spacingAndGlyphs">GB700-88</text><text x="1335" y="615" textLength="26" lengthAdjust="spacingAndGlyphs">后输出轴</text><text x="1431" y="614" textLength="7" lengthAdjust="spacingAndGlyphs">45</text>
<text x="1255" y="628" textLength="26" lengthAdjust="spacingAndGlyphs">GB276-94</text><text x="1335" y="628" textLength="52" lengthAdjust="spacingAndGlyphs">深沟球轴承 6010</text><text x="1431" y="628" textLength="32" lengthAdjust="spacingAndGlyphs">Cr4Cr20T4A</text>
<text x="1255" y="641" textLength="28" lengthAdjust="spacingAndGlyphs">GB5439-88</text><text x="1333" y="641" textLength="13" lengthAdjust="spacingAndGlyphs">盖板</text><text x="1431" y="641" textLength="18" lengthAdjust="spacingAndGlyphs">HT150</text>
<text x="1255" y="655" textLength="27" lengthAdjust="spacingAndGlyphs">GB700-88</text><text x="1334" y="655" textLength="26" lengthAdjust="spacingAndGlyphs">限深轮轴</text><text x="1430" y="655" textLength="7" lengthAdjust="spacingAndGlyphs">45</text>
<text x="1332" y="668" textLength="20" lengthAdjust="spacingAndGlyphs">限深轮</text><text x="1431" y="668" textLength="28" lengthAdjust="spacingAndGlyphs">丁苯橡胶</text>
<text x="1255" y="681" textLength="28" lengthAdjust="spacingAndGlyphs">GB5439-88</text><text x="1333" y="681" textLength="32" lengthAdjust="spacingAndGlyphs">限深轮支架</text><text x="1431" y="681" textLength="16" lengthAdjust="spacingAndGlyphs">HT200</text>
<text x="1255" y="695" textLength="28" lengthAdjust="spacingAndGlyphs">GB5439-88</text><text x="1334" y="694" textLength="19" lengthAdjust="spacingAndGlyphs">侧箱体</text><text x="1431" y="695" textLength="16" lengthAdjust="spacingAndGlyphs">HT150</text>
<text x="1255" y="708" textLength="28" lengthAdjust="spacingAndGlyphs">GB5439-88</text><text x="1335" y="708" textLength="44" lengthAdjust="spacingAndGlyphs">侧边传动箱端盖</text><text x="1431" y="708" textLength="16" lengthAdjust="spacingAndGlyphs">HT100</text>
<text x="1255" y="722" textLength="28" lengthAdjust="spacingAndGlyphs">GB9440-88</text><text x="1335" y="722" textLength="19" lengthAdjust="spacingAndGlyphs">旋耕刀</text><text x="1432" y="722" textLength="30" lengthAdjust="spacingAndGlyphs">KTZ500-02</text>
<text x="1255" y="735" textLength="28" lengthAdjust="spacingAndGlyphs">GB5439-88</text><text x="1335" y="735" textLength="19" lengthAdjust="spacingAndGlyphs">悬挂件</text><text x="1431" y="735" textLength="16" lengthAdjust="spacingAndGlyphs">HT200</text>
<text x="1255" y="749" textLength="28" lengthAdjust="spacingAndGlyphs">GB5439-88</text><text x="1335" y="748" textLength="44" lengthAdjust="spacingAndGlyphs">中间齿轮上箱体</text><text x="1431" y="748" textLength="16" lengthAdjust="spacingAndGlyphs">HT150</text>
<text x="1255" y="762" textLength="28" lengthAdjust="spacingAndGlyphs">GB5439-88</text><text x="1335" y="762" textLength="26" lengthAdjust="spacingAndGlyphs">侧传动箱</text><text x="1431" y="762" textLength="18" lengthAdjust="spacingAndGlyphs">HT150</text>
<text x="1255" y="776" textLength="28" lengthAdjust="spacingAndGlyphs">GB5615-85</text><text x="1334" y="775" textLength="20" lengthAdjust="spacingAndGlyphs">集土斗</text><text x="1431" y="776" textLength="20" lengthAdjust="spacingAndGlyphs">20Mn13</text>
<text x="1255" y="788" textLength="28" lengthAdjust="spacingAndGlyphs">GB5439-88</text><text x="1334" y="789" textLength="19" lengthAdjust="spacingAndGlyphs">前横梁</text><text x="1431" y="788" textLength="16" lengthAdjust="spacingAndGlyphs">HT200</text>
<text x="1255" y="801" textLength="28" lengthAdjust="spacingAndGlyphs">GB5439-88</text><text x="1336" y="803" textLength="26" lengthAdjust="spacingAndGlyphs">侧固定板</text><text x="1432" y="802" textLength="16" lengthAdjust="spacingAndGlyphs">HT100</text>
<text x="1335" y="816" textLength="13" lengthAdjust="spacingAndGlyphs">螺栓</text><text x="1431" y="815" textLength="6" lengthAdjust="spacingAndGlyphs">15</text>
<text x="1332" y="829" textLength="32" lengthAdjust="spacingAndGlyphs">从动橡胶链轮</text><text x="1431" y="829" textLength="12" lengthAdjust="spacingAndGlyphs">橡胶</text>
<text x="1332" y="842" textLength="32" lengthAdjust="spacingAndGlyphs">输送橡胶链轮</text><text x="1431" y="842" textLength="12" lengthAdjust="spacingAndGlyphs">橡胶</text>
<text x="1255" y="856" textLength="27" lengthAdjust="spacingAndGlyphs">GB700-88</text><text x="1333" y="855" textLength="20" lengthAdjust="spacingAndGlyphs">输送轴</text><text x="1431" y="856" textLength="7" lengthAdjust="spacingAndGlyphs">45</text>
<text x="1333" y="869" textLength="20" lengthAdjust="spacingAndGlyphs">方形管</text><text x="1431" y="869" textLength="7" lengthAdjust="spacingAndGlyphs">45</text>
<text x="1333" y="883" textLength="20" lengthAdjust="spacingAndGlyphs">拔叉杆</text><text x="1431" y="882" textLength="7" lengthAdjust="spacingAndGlyphs">40</text>
<text x="1259" y="896" textLength="45" lengthAdjust="spacingAndGlyphs">JB/ZQ4181-1997</text><text x="1335" y="896" textLength="20" lengthAdjust="spacingAndGlyphs">联轴销</text><text x="1431" y="896" textLength="7" lengthAdjust="spacingAndGlyphs">45</text>
<text x="1255" y="910" textLength="28" lengthAdjust="spacingAndGlyphs">GB5439-88</text><text x="1333" y="910" textLength="13" lengthAdjust="spacingAndGlyphs">压盖</text><text x="1430" y="909" textLength="16" lengthAdjust="spacingAndGlyphs">HT100</text>
<text x="1255" y="923" textLength="28" lengthAdjust="spacingAndGlyphs">GB5439-88</text><text x="1333" y="923" textLength="20" lengthAdjust="spacingAndGlyphs">联轴器</text><text x="1430" y="923" textLength="16" lengthAdjust="spacingAndGlyphs">HT250</text>
<text x="1333" y="936" textLength="44" lengthAdjust="spacingAndGlyphs">圆柱齿轮25×8</text><text x="1431" y="936" textLength="14" lengthAdjust="spacingAndGlyphs">40Cr</text>
<text x="1253" y="949" textLength="26" lengthAdjust="spacingAndGlyphs">GB276-94</text><text x="1335" y="949" textLength="49" lengthAdjust="spacingAndGlyphs">深沟球轴承 6009</text><text x="1431" y="949" textLength="32" lengthAdjust="spacingAndGlyphs">Cr4Cr20T4A</text>
<text x="1255" y="963" textLength="27" lengthAdjust="spacingAndGlyphs">GB700-88</text><text x="1335" y="963" textLength="19" lengthAdjust="spacingAndGlyphs">支撑轴</text><text x="1431" y="963" textLength="7" lengthAdjust="spacingAndGlyphs">45</text>
</g>
<g class="c">
<text x="1210" y="982">序号</text><text x="1254" y="982">代号</text><text x="1335" y="984">名称</text><text x="1387" y="981">数量</text><text x="1431" y="981">材料</text><text x="1476" y="975">单件</text><text x="1497" y="975">总计</text><text x="1526" y="982">备注</text>
<text x="1488" y="989" style="font-weight:700;font-size:8px">重量</text>
<text x="1212" y="1043">标记</text><text x="1231" y="1043">处数</text><text x="1251" y="1044">分区</text><text x="1313" y="1044">签名</text><text x="1340" y="1044">年月日</text>
<text x="1213" y="1057">设计</text><text x="1313" y="1055">签名</text><text x="1340" y="1055">年月日</text>
<text x="1213" y="1082">审核</text><text x="1214" y="1096">工艺</text><text x="1288" y="1096">批准</text>
<text x="1381" y="1058" style="letter-spacing:.6px">阶段标记</text><text x="1416" y="1059" style="font-weight:700;font-size:8px">重量</text><text x="1439" y="1058">比例</text>
<text x="1439" y="1078" style="font-size:8px">1:10</text>
<text x="1367" y="1094">共</text><text x="1381" y="1094" style="font-size:8px">1</text><text x="1399" y="1094">张</text><text x="1415" y="1094">第</text><text x="1434" y="1094" style="font-size:8px">1</text><text x="1449" y="1094">张</text>
<text x="1499" y="1053" style="font-size:11px" textLength="87" lengthAdjust="spacing">葡萄埋藤机装配图</text>
</g>
<text x="1497" y="1092" style="font-family:'Liberation Serif',serif;font-size:24px;fill:#ddd;text-anchor:middle">A1</text>
</svg>
</body></html>
